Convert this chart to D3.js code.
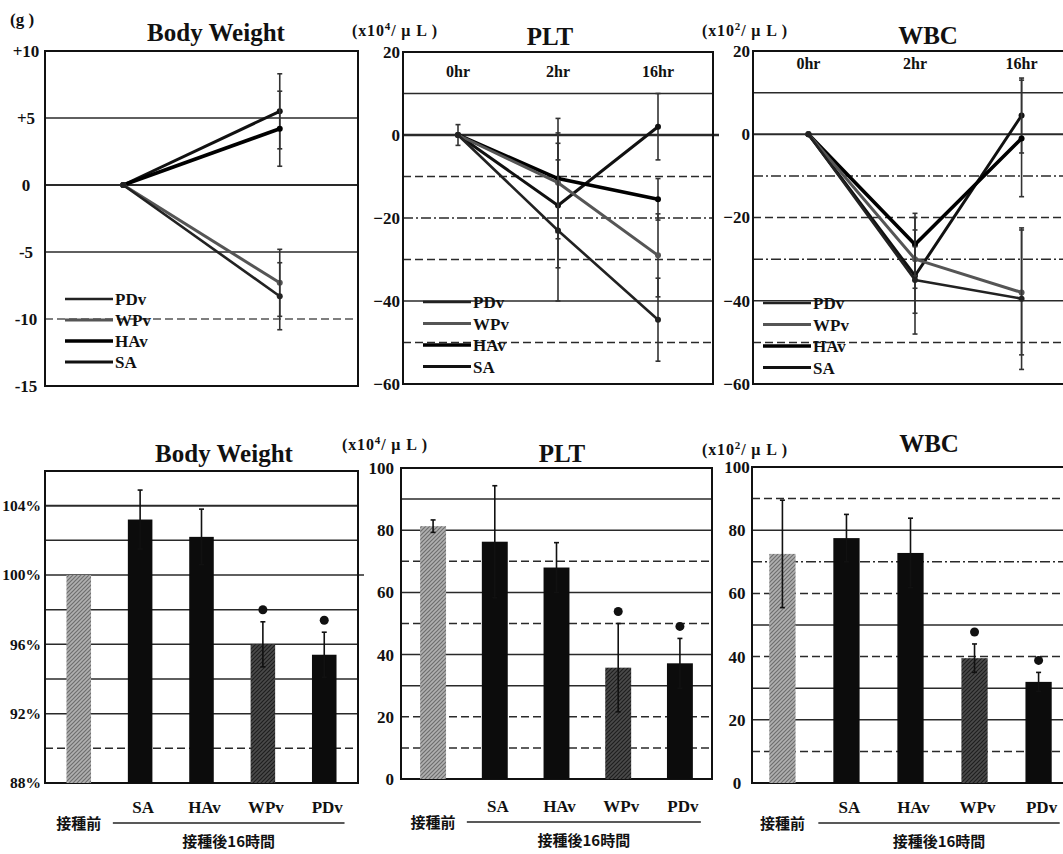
<!DOCTYPE html>
<html>
<head>
<meta charset="utf-8">
<script src="https://cdn.jsdelivr.net/npm/d3@7"></script>
<style>
  body { margin: 0; background: #fff; }
  svg text { font-family: "Liberation Serif", "DejaVu Serif", serif; font-weight: bold; fill: #111; }
  svg text.cjk { font-family: "Noto Sans CJK JP", "Noto Sans CJK SC", sans-serif; font-weight: bold; }
</style>
</head>
<body>
<svg id="fig" width="1063" height="854"></svg>
<script>
// ---- Time course of change from baseline (top row) ----
const timePoints = ["0hr", "2hr", "16hr"];
const bwTimePoints = ["0hr", "16hr"];
const groupNames = ["SA", "HAv", "WPv", "PDv"];
const legendOrder = ["PDv", "WPv", "HAv", "SA"];

// body weight change (g)
const bwChangeSA  = [0, 5.5];
const bwChangeHAv = [0, 4.2];
const bwChangeWPv = [0, -7.3];
const bwChangePDv = [0, -8.3];
const bwChangeSdSA  = [0, 2.8];
const bwChangeSdHAv = [0, 2.8];
const bwChangeSdWPv = [0, 2.5];
const bwChangeSdPDv = [0, 2.5];

// platelet change (x10^4/uL)
const pltChangeSA  = [0, -17, 2];
const pltChangeHAv = [0, -10.5, -15.5];
const pltChangeWPv = [0, -11.5, -29];
const pltChangePDv = [0, -23, -44.5];
const pltChangeSdSA  = [2.5, 15, 8];
const pltChangeSdHAv = [0, 14.5, 5];
const pltChangeSdWPv = [0, 12, 10];
const pltChangeSdPDv = [0, 17, 10];

// white cell change (x10^2/uL)
const wbcChangeSA  = [0, -34, 4.5];
const wbcChangeHAv = [0, -26.5, -1];
const wbcChangeWPv = [0, -30, -38];
const wbcChangePDv = [0, -35, -39.5];
const wbcChangeSdSA  = [0, 14, 9];
const wbcChangeSdHAv = [0, 7.5, 14];
const wbcChangeSdWPv = [0, 7, 15];
const wbcChangeSdPDv = [0, 8, 17];

// ---- Values 16 h after inoculation (bottom row) ----
const barCategories = ["接種前", "SA", "HAv", "WPv", "PDv"];
const bwPercent     = [100, 103.2, 102.2, 96.0, 95.4];
const bwPercentSd   = [0, 1.7, 1.6, 1.3, 1.3];
const pltCount      = [81.3, 76.3, 68.0, 35.8, 37.2];
const pltCountSd    = [2, 18, 8, 14.2, 8];
const wbcCount      = [72.5, 77.5, 72.8, 39.5, 32.0];
const wbcCountSd    = [17, 7.5, 11, 4.5, 3];
const significant   = [false, false, false, true, true];

// tick labels
const bwLineTicks = [10, 5, 0, -5, -10, -15];
const bwLineTickLabels = ["+10", "+5", "0", "-5", "-10", "-15"];
const countLineTicks = [20, 0, -20, -40, -60];
const bwBarTicks = [104, 100, 96, 92, 88];
const countBarTicks = [100, 80, 60, 40, 20, 0];

// ---- drawing ----
const svg = d3.select("#fig");
const defs = svg.append("defs");

function texture(id, bg, fg) {
  const p = defs.append("pattern").attr("id", id)
    .attr("width", 4).attr("height", 4).attr("patternUnits", "userSpaceOnUse");
  p.append("rect").attr("width", 4).attr("height", 4).attr("fill", bg);
  p.append("path").attr("d", "M0,4 L4,0 M-1,1 L1,-1 M3,5 L5,3")
    .attr("stroke", fg).attr("stroke-width", 1.2);
}
texture("texLight", "#b0b0b0", "#6e6e6e");
texture("texDark", "#4a4a4a", "#1e1e1e");

const seriesStyle = {
  SA:  { color: "#111", width: 3 },
  HAv: { color: "#000", width: 3.6 },
  WPv: { color: "#555", width: 3 },
  PDv: { color: "#222", width: 2.6 }
};
const barFill = ["url(#texLight)", "#0c0c0c", "#0c0c0c", "url(#texDark)", "#0c0c0c"];

function unitLabel(x, y, power) {
  const t = svg.append("text").attr("x", x).attr("y", y).attr("font-size", 16)
    .attr("textLength", 85).attr("lengthAdjust", "spacing");
  t.append("tspan").text("(x10");
  t.append("tspan").attr("font-size", 11).attr("dy", -6).text(power);
  t.append("tspan").attr("dy", 6).text("/ μ L )");
}

function title(x, y, s, size) {
  svg.append("text").attr("x", x).attr("y", y).attr("text-anchor", "middle")
    .attr("font-size", size || 25).text(s);
}

function drawGrid(g, o, y) {
  o.grid.forEach(gl => {
    g.append("line")
      .attr("x1", o.x0).attr("x2", gl.ext ? o.x1 + gl.ext : o.x1)
      .attr("y1", y(gl.v)).attr("y2", y(gl.v))
      .attr("stroke", gl.color || "#2a2a2a")
      .attr("stroke-width", gl.w || 1.5)
      .attr("stroke-dasharray", gl.dash || null);
  });
  g.append("rect").attr("x", o.x0).attr("y", o.y0)
    .attr("width", o.x1 - o.x0).attr("height", o.y1 - o.y0)
    .attr("fill", "none").attr("stroke", "#111").attr("stroke-width", 2);
}

function drawYAxis(g, o, y) {
  const ax = d3.axisLeft(y).tickValues(o.ticks).tickSize(0)
    .tickPadding(o.tickPad).tickFormat(o.fmt);
  const a = g.append("g").attr("transform", `translate(${o.x0},0)`).call(ax);
  a.select(".domain").remove();
  a.attr("font-size", o.tickSize || 17).attr("font-family", null);
  if (o.anchor) a.selectAll("text").attr("text-anchor", o.anchor);
}

function linePanel(o) {
  const g = svg.append("g");
  const x = d3.scalePoint().domain(o.times).range([o.x0, o.x1]).padding(o.pad);
  const y = d3.scaleLinear().domain(o.yDomain).range([o.y1, o.y0]);
  drawGrid(g, o, y);
  drawYAxis(g, o, y);

  if (o.header) {
    g.selectAll(".hdr").data(o.times).join("text")
      .attr("x", d => x(d)).attr("y", y(o.header) + 6)
      .attr("text-anchor", "middle").attr("font-size", 16).text(d => d);
  }

  const line = d3.line().x((d, i) => x(o.times[i])).y(d => y(d));
  o.series.forEach(s => {
    const st = seriesStyle[s.name];
    // error bars
    s.values.forEach((v, i) => {
      const sd = s.sd[i];
      if (!sd) return;
      const cx = x(o.times[i]);
      g.append("line").attr("x1", cx).attr("x2", cx)
        .attr("y1", y(v + sd)).attr("y2", y(v - sd))
        .attr("stroke", "#333").attr("stroke-width", 1.6);
      [v + sd, v - sd].forEach(e => g.append("line")
        .attr("x1", cx - 2.5).attr("x2", cx + 2.5).attr("y1", y(e)).attr("y2", y(e))
        .attr("stroke", "#333").attr("stroke-width", 1.6));
    });
    g.append("path").datum(s.values).attr("d", line)
      .attr("fill", "none").attr("stroke", st.color)
      .attr("stroke-width", st.width).attr("stroke-linejoin", "round");
    g.selectAll(null).data(s.values).join("circle")
      .attr("cx", (d, i) => x(o.times[i])).attr("cy", d => y(d))
      .attr("r", 3).attr("fill", st.color);
  });

  // legend
  legendOrder.forEach((name, i) => {
    const st = seriesStyle[name];
    const ly = o.legend.y + i * o.legend.dy;
    g.append("line").attr("x1", o.legend.x).attr("x2", o.legend.x + 48)
      .attr("y1", ly).attr("y2", ly)
      .attr("stroke", st.color).attr("stroke-width", st.width);
    g.append("text").attr("x", o.legend.x + 50).attr("y", ly + 6)
      .attr("font-size", 17).text(name);
  });
}

function barPanel(o) {
  const g = svg.append("g");
  const x = d3.scaleBand().domain(barCategories).range([o.x0, o.x1])
    .paddingInner(o.padIn).paddingOuter(o.padOut);
  const y = d3.scaleLinear().domain(o.yDomain).range([o.y1, o.y0]);
  drawGrid(g, o, y);
  drawYAxis(g, o, y);

  const base = o.yDomain[0];
  g.selectAll(".bar").data(o.values).join("rect")
    .attr("x", (d, i) => x(barCategories[i]))
    .attr("width", x.bandwidth())
    .attr("y", d => y(d)).attr("height", d => y(base) - y(d))
    .attr("fill", (d, i) => barFill[i]);

  o.values.forEach((v, i) => {
    const sd = o.sd[i];
    const cx = x(barCategories[i]) + x.bandwidth() / 2;
    if (sd) {
      g.append("line").attr("x1", cx).attr("x2", cx)
        .attr("y1", y(v + sd)).attr("y2", y(v - sd))
        .attr("stroke", "#111").attr("stroke-width", 1.6);
      [v + sd, v - sd].forEach(e => g.append("line")
        .attr("x1", cx - 2.5).attr("x2", cx + 2.5).attr("y1", y(e)).attr("y2", y(e))
        .attr("stroke", "#111").attr("stroke-width", 1.6));
    }
    if (significant[i]) {
      g.append("circle").attr("cx", cx).attr("cy", y(v + sd) - 12)
        .attr("r", 4.5).attr("fill", "#111");
    }
  });

  // category labels
  barCategories.forEach((c, i) => {
    const cx = x(c) + x.bandwidth() / 2;
    if (i === 0) {
      g.append("text").attr("class", "cjk").attr("x", cx).attr("y", o.labelY + 16)
        .attr("text-anchor", "middle").attr("font-size", 15).text(c);
    } else {
      g.append("text").attr("x", cx + 3).attr("y", o.labelY)
        .attr("text-anchor", "middle").attr("font-size", 17).text(c);
    }
  });
  const lx0 = x(barCategories[1]) - 15;
  const lx1 = x(barCategories[4]) + x.bandwidth() + 8;
  g.append("line").attr("x1", lx0).attr("x2", lx1)
    .attr("y1", o.labelY + 10).attr("y2", o.labelY + 10)
    .attr("stroke", "#222").attr("stroke-width", 1.5);
  g.append("text").attr("class", "cjk").attr("x", (lx0 + lx1) / 2).attr("y", o.labelY + 34)
    .attr("text-anchor", "middle").attr("font-size", 15).text("接種後16時間");
}

// ---- top row ----
const dashed = "8,4", dashDot = "10,3,2,3";

linePanel({
  x0: 45, x1: 358, y0: 51, y1: 386, yDomain: [-15, 10], pad: 0.5,
  times: bwTimePoints, ticks: bwLineTicks,
  fmt: d => bwLineTickLabels[bwLineTicks.indexOf(d)], tickPad: 19, anchor: "middle",
  grid: [{ v: 5 }, { v: 0, w: 2 }, { v: -5 }, { v: -10, dash: dashed, color: "#555" }],
  series: [
    { name: "SA", values: bwChangeSA, sd: bwChangeSdSA },
    { name: "HAv", values: bwChangeHAv, sd: bwChangeSdHAv },
    { name: "WPv", values: bwChangeWPv, sd: bwChangeSdWPv },
    { name: "PDv", values: bwChangePDv, sd: bwChangeSdPDv }
  ],
  legend: { x: 65, y: 299, dy: 21 }
});

linePanel({
  x0: 403, x1: 713, y0: 52, y1: 384, yDomain: [-60, 20], pad: 0.55,
  times: timePoints, ticks: countLineTicks, fmt: d3.format("d"), tickPad: 3,
  header: 15.5,
  grid: [{ v: 10 }, { v: 0, w: 2.5, ext: 6 }, { v: -10, dash: dashed }, { v: -20, dash: dashDot },
         { v: -30, dash: dashed }, { v: -40 }, { v: -50, dash: dashed }],
  series: [
    { name: "SA", values: pltChangeSA, sd: pltChangeSdSA },
    { name: "HAv", values: pltChangeHAv, sd: pltChangeSdHAv },
    { name: "WPv", values: pltChangeWPv, sd: pltChangeSdWPv },
    { name: "PDv", values: pltChangePDv, sd: pltChangeSdPDv }
  ],
  legend: { x: 423, y: 302, dy: 21.5 }
});

linePanel({
  x0: 753, x1: 1077, y0: 51, y1: 384, yDomain: [-60, 20], pad: 0.52,
  times: timePoints, ticks: countLineTicks, fmt: d3.format("d"), tickPad: 3,
  header: 17,
  grid: [{ v: 10 }, { v: 0, w: 2 }, { v: -10, dash: dashDot }, { v: -20, dash: dashed },
         { v: -30, dash: dashDot }, { v: -40 }, { v: -50, dash: dashed }],
  series: [
    { name: "SA", values: wbcChangeSA, sd: wbcChangeSdSA },
    { name: "HAv", values: wbcChangeHAv, sd: wbcChangeSdHAv },
    { name: "WPv", values: wbcChangeWPv, sd: wbcChangeSdWPv },
    { name: "PDv", values: wbcChangePDv, sd: wbcChangeSdPDv }
  ],
  legend: { x: 763, y: 303, dy: 21.5 }
});

svg.append("text").attr("x", 10).attr("y", 25).attr("font-size", 17).text("(g )");
unitLabel(352, 36, "4");
unitLabel(702, 36, "2");
title(216, 41, "Body Weight");
title(550, 45, "PLT");
title(928, 44, "WBC");

// ---- bottom row ----
barPanel({
  x0: 45, x1: 358, y0: 471, y1: 783, yDomain: [88, 106], padIn: 0.6, padOut: 0.35,
  ticks: bwBarTicks, fmt: d => d + "%", tickPad: 4, tickSize: 15.5, labelY: 813,
  values: bwPercent, sd: bwPercentSd,
  grid: [{ v: 104, w: 2 }, { v: 102 }, { v: 100, ext: 6 }, { v: 98 }, { v: 96 }, { v: 94 },
         { v: 92 }, { v: 90, dash: dashed }]
});

barPanel({
  x0: 401, x1: 712, y0: 468, y1: 779, yDomain: [0, 100], padIn: 0.58, padOut: 0.31,
  ticks: countBarTicks, fmt: d3.format("d"), tickPad: 7, labelY: 812,
  values: pltCount, sd: pltCountSd,
  grid: [{ v: 90 }, { v: 80 }, { v: 70, dash: dashed }, { v: 60 }, { v: 50, dash: dashed },
         { v: 40 }, { v: 30 }, { v: 20, dash: dashed }, { v: 10, dash: dashed }]
});

barPanel({
  x0: 752, x1: 1069, y0: 467, y1: 783, yDomain: [0, 100], padIn: 0.59, padOut: 0.27,
  ticks: countBarTicks, fmt: d3.format("d"), tickPad: 15, anchor: "middle", labelY: 813,
  values: wbcCount, sd: wbcCountSd,
  grid: [{ v: 90, dash: dashed }, { v: 80 }, { v: 70, dash: dashDot }, { v: 60, dash: dashed },
         { v: 50 }, { v: 40, dash: dashed }, { v: 30 }, { v: 20 }, { v: 10, dash: dashed }]
});

unitLabel(342, 450, "4");
unitLabel(702, 455, "2");
title(224, 462, "Body Weight");
title(562, 462, "PLT");
title(929, 452, "WBC");
</script>
</body>
</html>
